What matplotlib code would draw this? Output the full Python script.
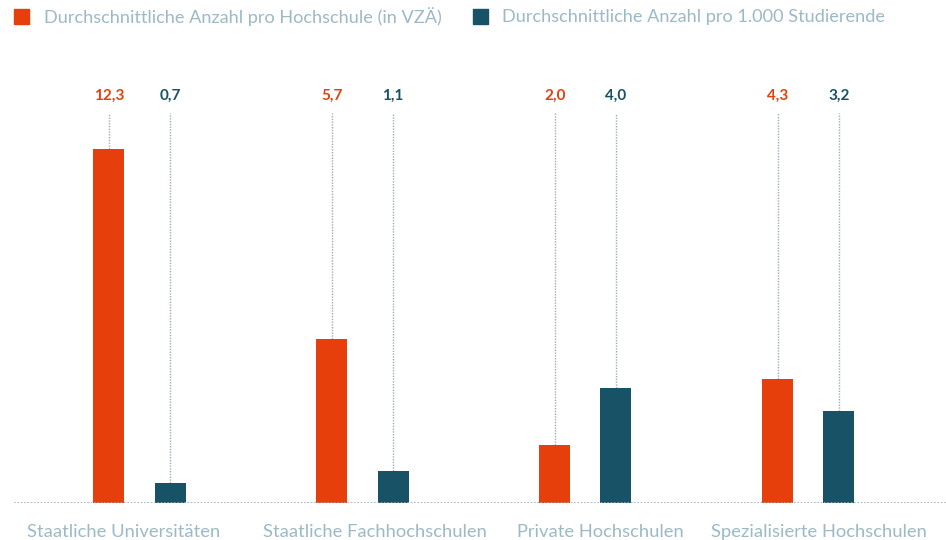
import matplotlib.pyplot as plt
import numpy as np

plt.rcParams['font.family'] = ['Lato', 'DejaVu Sans']

categories = ["Staatliche Universitäten", "Staatliche Fachhochschulen",
              "Private Hochschulen", "Spezialisierte Hochschulen"]
series_names = ["Durchschnittliche Anzahl pro Hochschule (in VZÄ)",
                "Durchschnittliche Anzahl pro 1.000 Studierende"]
pro_hochschule = [12.3, 5.7, 2.0, 4.3]
pro_1000 = [0.7, 1.1, 4.0, 3.2]

orange = "#E63F0C"
teal = "#185266"
grey_text = "#9CB9C6"
dot_col = "#9EABB7"

x = np.arange(len(categories))
off = 0.137
w = 0.139
label_shift = [-0.07, 0.058, 0.067, 0.049]

fig = plt.figure(figsize=(9.46, 5.40), dpi=100)
ax = fig.add_axes([0, 37 / 540, 1, 1 - 37 / 540])
ax.set_xlim(-0.6256, 3.617)
ax.set_ylim(0, 503 / 28.77)

label_y = (503 - 96) / 28.77
line_top = (503 - 113) / 28.77

for vals, sign, col in [(pro_hochschule, -1, orange), (pro_1000, 1, teal)]:
    xs = x + sign * off
    ax.bar(xs, vals, width=w, color=col, zorder=3)
    for xi, v in zip(xs, vals):
        ax.plot([xi, xi], [v, line_top], ls=(0, (1, 1)), color=dot_col,
                lw=1, zorder=2)
        ax.text(xi, label_y, f"{v:.1f}".replace(".", ","), ha="center",
                va="center", color=col, fontsize=11, fontweight="bold")

ax.axhline(0, xmin=(14 / 946), xmax=1, color=dot_col, ls=(0, (1, 1)), lw=1.2,
           zorder=4)

for xi, s, cat in zip(x, label_shift, categories):
    ax.text(xi + s, -29 / 28.77, cat, ha="center", va="center",
            color=grey_text, fontsize=13.2)

ax.axis("off")

# legend
fig.patches.append(plt.Rectangle((14 / 946, 1 - 24 / 540), 15 / 946, 15 / 540,
                                 transform=fig.transFigure, color=orange,
                                 figure=fig))
fig.text(44 / 946, 1 - 17 / 540, series_names[0], ha="left", va="center",
         color=grey_text, fontsize=13.1)
fig.patches.append(plt.Rectangle((473 / 946, 1 - 24 / 540), 15 / 946, 15 / 540,
                                 transform=fig.transFigure, color=teal,
                                 figure=fig))
fig.text(502 / 946, 1 - 17 / 540, series_names[1], ha="left", va="center",
         color=grey_text, fontsize=13.1)

fig.savefig("out.png", dpi=100)
